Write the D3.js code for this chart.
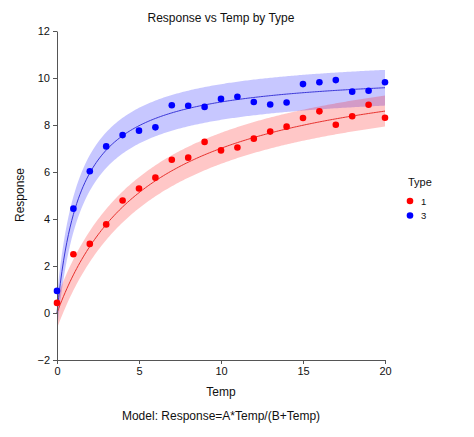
<!DOCTYPE html>
<html>
<head>
<meta charset="utf-8">
<script src="https://cdn.jsdelivr.net/npm/d3@7"></script>
<style>
  html, body { margin: 0; padding: 0; background: #fff; }
  svg { display: block; font-family: "Liberation Sans", Arial, sans-serif; }
</style>
</head>
<body>
<svg id="chart" width="474" height="437"></svg>
<script>
// ---- data ----
const temps = [0,1,2,3,4,5,6,7,8,9,10,11,12,13,14,15,16,17,18,19,20];
const types = ["1", "3"];
const responseType1 = [0.43,2.50,2.94,3.77,4.79,5.30,5.76,6.52,6.61,7.28,6.92,7.04,7.42,7.72,7.93,8.30,8.58,8.01,8.37,8.86,8.31];
const responseType3 = [0.94,4.44,6.03,7.09,7.57,7.76,7.90,8.84,8.82,8.77,9.11,9.20,8.98,8.87,8.96,9.74,9.82,9.91,9.42,9.46,9.82];
// fitted model Response = A*Temp/(B+Temp), per type
const modelA = [11.1, 10.28];
const modelB = [5.84, 1.45];
const bandHalfWidth = [0.66, 0.76];
const yTicks = [-2,0,2,4,6,8,10,12];
const xTicks = [0,5,10,15,20];
const colors = ["#ff0000", "#0000ff"];
const lineColors = ["#e8302c", "#3a36d8"];
const bandColors = ["rgba(255,0,0,0.22)", "rgba(0,0,255,0.22)"];

const svg = d3.select("#chart");
svg.append("rect").attr("width", 474).attr("height", 437).attr("fill", "#fff");

const x = d3.scaleLinear().domain([0, 20]).range([57, 385]);
const y = d3.scaleLinear().domain([-2, 12]).range([360, 31]);

const series = [responseType1, responseType3];

// model curves sampled along temp domain
const curveT = d3.range(0, 20.0001, 0.1);
const g = svg.append("g");

// bands (blue first, then red)
[1, 0].forEach(i => {
  const f = t => modelA[i] * t / (modelB[i] + t);
  const area = d3.area()
    .x(t => x(t))
    .y0(t => y(f(t) - bandHalfWidth[i]))
    .y1(t => y(f(t) + bandHalfWidth[i]));
  g.append("path").datum(curveT).attr("d", area).attr("fill", bandColors[i]).attr("stroke", "none");
});

// axes
const yAxis = d3.axisLeft(y).tickValues(yTicks).tickSize(4).tickSizeOuter(0).tickPadding(3);
const xAxis = d3.axisBottom(x).tickValues(xTicks).tickSize(4).tickSizeOuter(0).tickPadding(3);
const ya = svg.append("g").attr("transform", "translate(57,0)").call(yAxis);
const xa = svg.append("g").attr("transform", "translate(0,360)").call(xAxis);
[ya, xa].forEach(a => {
  a.selectAll("path, line").attr("stroke", "#555").attr("stroke-width", 1);
  a.selectAll("text").attr("font-size", 11).attr("fill", "#111")
    .attr("font-family", "'Liberation Sans', Arial, sans-serif");
});

// lines
[1, 0].forEach(i => {
  const f = t => modelA[i] * t / (modelB[i] + t);
  const line = d3.line().x(t => x(t)).y(t => y(f(t)));
  g.append("path").datum(curveT).attr("d", line).attr("fill", "none")
    .attr("stroke", lineColors[i]).attr("stroke-width", 1);
});

// points
[0, 1].forEach(i => {
  svg.append("g").selectAll("circle").data(series[i]).join("circle")
    .attr("cx", (d, j) => x(temps[j]))
    .attr("cy", d => y(d))
    .attr("r", 3.3)
    .attr("fill", colors[i]);
});

// titles
svg.append("text").attr("x", 221).attr("y", 22).attr("text-anchor", "middle")
  .attr("font-size", 12).attr("fill", "#111").text("Response vs Temp by Type");
svg.append("text").attr("x", 221).attr("y", 396).attr("text-anchor", "middle")
  .attr("font-size", 12).attr("fill", "#111").text("Temp");
svg.append("text").attr("x", 221).attr("y", 420).attr("text-anchor", "middle")
  .attr("font-size", 12).attr("fill", "#111").text("Model: Response=A*Temp/(B+Temp)");
svg.append("text").attr("transform", "translate(24,195) rotate(-90)").attr("text-anchor", "middle")
  .attr("font-size", 12).attr("fill", "#111").text("Response");

// legend
svg.append("text").attr("x", 408).attr("y", 186).attr("font-size", 11).attr("fill", "#111").text("Type");
types.forEach((t, i) => {
  const ly = 201 + i * 14.5;
  svg.append("circle").attr("cx", 410).attr("cy", ly).attr("r", 3.3).attr("fill", colors[i]);
  svg.append("text").attr("x", 421).attr("y", ly + 3.5).attr("font-size", 9.5).attr("fill", "#111").text(t);
});
</script>
</body>
</html>
